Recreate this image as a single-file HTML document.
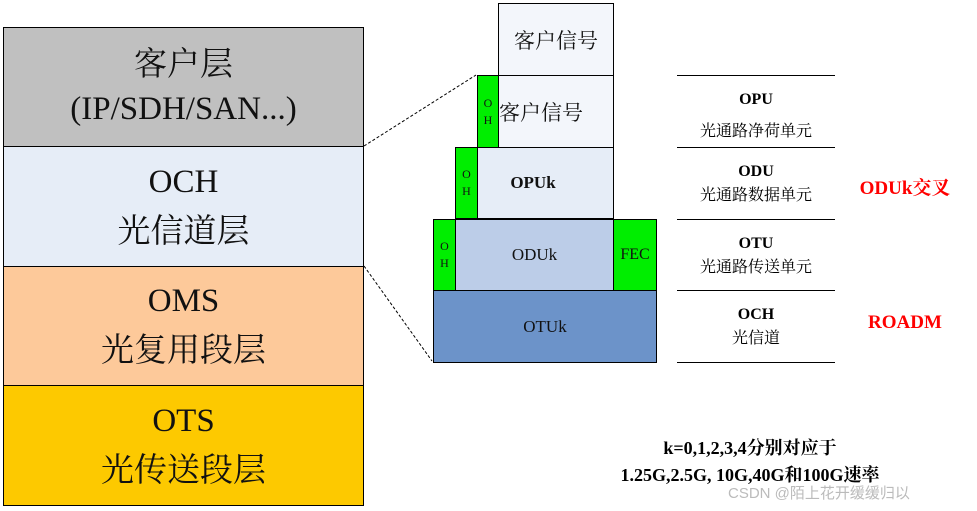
<!DOCTYPE html>
<html><head><meta charset="utf-8"><style>
body{margin:0;width:977px;height:511px;background:#fff;position:relative;overflow:hidden;font-family:"Liberation Serif","Noto Serif CJK SC",serif;}
.b{position:absolute;box-sizing:border-box;border:1px solid #000;display:flex;align-items:center;justify-content:center;text-align:center;color:#111;}
.t{position:absolute;text-align:center;}
.l{position:absolute;left:677px;width:158px;height:1px;background:#000;}
</style></head><body>
<div class="b" style="left:3px;top:27px;width:361px;height:120px;background:#c0c0c0;font-size:33px;line-height:44px;">客户层<br>(IP/SDH/SAN...)</div>
<div class="b" style="left:3px;top:146px;width:361px;height:121px;background:#e6edf7;font-size:33px;line-height:50px;">OCH<br>光信道层</div>
<div class="b" style="left:3px;top:266px;width:361px;height:120px;background:#fdc99a;font-size:33px;line-height:50px;">OMS<br>光复用段层</div>
<div class="b" style="left:3px;top:385px;width:361px;height:121px;background:#fdc900;font-size:33px;line-height:50px;">OTS<br>光传送段层</div>
<svg style="position:absolute;left:0;top:0" width="977" height="511"><line x1="364" y1="146" x2="476" y2="75" stroke="#000" stroke-dasharray="3,2"/><line x1="364" y1="266" x2="432" y2="361" stroke="#000" stroke-dasharray="3,2"/></svg>
<div class="b" style="left:498px;top:3px;width:116px;height:73px;background:#f3f6fb;font-size:21px;">客户信号</div>
<div class="b" style="left:477px;top:75px;width:22px;height:73px;background:#00ee00;font-size:12px;line-height:17px;">O<br>H</div>
<div class="b" style="left:498px;top:75px;width:116px;height:73px;background:#f3f6fb;font-size:21px;justify-content:flex-start;">客户信号</div>
<div class="b" style="left:455px;top:147px;width:23px;height:72px;background:#00ee00;font-size:12px;line-height:17px;">O<br>H</div>
<div class="b" style="left:477px;top:147px;width:137px;height:72px;background:#e6edf7;font-size:17px;font-weight:bold;padding-right:25px;">OPUk</div>
<div class="b" style="left:433px;top:219px;width:23px;height:72px;background:#00ee00;font-size:12px;line-height:17px;">O<br>H</div>
<div class="b" style="left:455px;top:219px;width:159px;height:72px;background:#bccde8;font-size:17px;">ODUk</div>
<div class="b" style="left:613px;top:219px;width:44px;height:72px;background:#00ee00;font-size:16px;">FEC</div>
<div class="b" style="left:433px;top:290px;width:224px;height:73px;background:#6c93c9;font-size:17px;">OTUk</div>
<div class="l" style="top:75px"></div><div class="l" style="top:147px"></div><div class="l" style="top:219px"></div><div class="l" style="top:290px"></div><div class="l" style="top:362px"></div>
<div class="t" style="left:660px;width:192px;top:84px;font-size:16px;line-height:32px;"><b>OPU</b><br>光通路净荷单元</div>
<div class="t" style="left:660px;width:192px;top:160px;font-size:16px;line-height:24px;"><b>ODU</b><br>光通路数据单元</div>
<div class="t" style="left:660px;width:192px;top:232px;font-size:16px;line-height:24px;"><b>OTU</b><br>光通路传送单元</div>
<div class="t" style="left:660px;width:192px;top:303px;font-size:16px;line-height:24px;"><b>OCH</b><br>光信道</div>
<div class="t" style="left:840px;width:130px;top:173px;font-size:19px;color:#f00;font-weight:bold;">ODUk交叉</div>
<div class="t" style="left:840px;width:130px;top:312px;font-size:19px;color:#f00;font-weight:bold;">ROADM</div>
<div class="t" style="left:570px;width:360px;top:435px;font-size:18px;line-height:27px;font-weight:bold;">k=0,1,2,3,4分别对应于<br>1.25G,2.5G, 10G,40G和100G速率</div>
<div class="t" style="left:728px;top:482px;font-size:15px;color:#bbb;font-family:'Liberation Sans','Noto Sans CJK SC',sans-serif;">CSDN @陌上花开缓缓归以</div>
</body></html>
